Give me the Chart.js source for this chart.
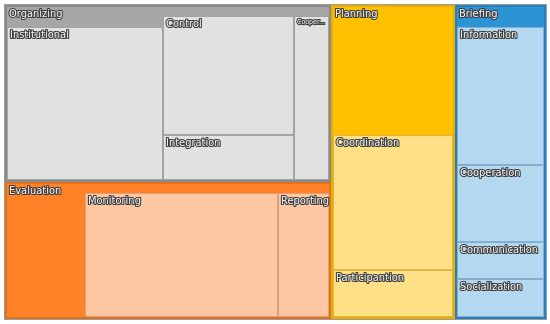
<!DOCTYPE html>
<html>
<head>
<meta charset="utf-8">
<script src="https://cdn.jsdelivr.net/npm/chart.js@4/dist/chart.umd.min.js"></script>
<style>
  html, body { margin: 0; padding: 0; background: #fff; }
  canvas { display: block; }
</style>
</head>
<body>
<canvas id="chart" width="550" height="324"></canvas>
<script>
// data
var groups = ['Organizing', 'Evaluation', 'Planning', 'Briefing'];
var groupOwnValues = [0, 6.4, 9.1, 0];
var organizingItems = ['Institutional', 'Control', 'Integration', 'Cooperation'];
var organizingValues = [16.5, 10.0, 3.8, 3.7];
var evaluationItems = ['Monitoring', 'Reporting'];
var evaluationValues = [15.7, 4.2];
var planningItems = ['Coordination', 'Participantion'];
var planningValues = [10.4, 3.6];
var briefingItems = ['Information', 'Cooperation', 'Communication', 'Socialization'];
var briefingValues = [8.3, 4.3, 2.1, 2.1];

var groupItems = [organizingItems, evaluationItems, planningItems, briefingItems];
var groupValues = [organizingValues, evaluationValues, planningValues, briefingValues];

// how the cells are arranged (index 0 = the group's own value)
var topArrangement = { horizontal: true, cols: [[0, 1], [2], [3]] };
var groupArrangement = [
  { horizontal: true, cols: [[0], [1], [2, 3], [4]] },
  { horizontal: true, cols: [[0], [1], [2]] },
  { horizontal: false, cols: [[0], [1], [2]] },
  { horizontal: false, cols: [[0], [1], [2], [3], [4]] }
];

var groupFill = ['#a6a6a6', '#ff8227', '#ffc000', '#2c93d5'];
var groupBorder = ['#8a8a8a', '#e0721e', '#e8ad00', '#2580c0'];
var cellFill = ['#e1e1e1', '#ffc6a2', '#ffe087', '#b5d8f1'];
var cellBorder = ['#a3a3a3', '#d9a27f', '#e0b640', '#86aed0'];

var FONT = '"DejaVu Sans Condensed", "DejaVu Sans", sans-serif';

function sum(a) { return a.reduce(function (s, v) { return s + v; }, 0); }

function slice(r, vals, cols, horizontal) {
  var total = 0;
  cols.forEach(function (c) { c.forEach(function (i) { total += vals[i]; }); });
  var out = [];
  var pos = horizontal ? r.x : r.y;
  cols.forEach(function (c) {
    var cs = 0;
    c.forEach(function (i) { cs += vals[i]; });
    var len = (horizontal ? r.w : r.h) * cs / total;
    var p2 = horizontal ? r.y : r.x;
    c.forEach(function (i) {
      var l2 = cs ? (horizontal ? r.h : r.w) * vals[i] / cs : 0;
      out[i] = horizontal ? { x: pos, y: p2, w: len, h: l2 } : { x: p2, y: pos, w: l2, h: len };
      p2 += l2;
    });
    pos += len;
  });
  return out;
}

function fitText(ctx, text, maxW) {
  ctx.font = '11px ' + FONT;
  // only really narrow cells get the small, cut label
  if (ctx.measureText(text).width <= maxW * 1.5) return text;
  ctx.font = '7px ' + FONT;
  var t = text;
  while (t.length > 1 && ctx.measureText(t + '...').width > maxW) t = t.slice(0, -1);
  return t + '...';
}

function drawLabel(ctx, text, x, y, maxW) {
  var t = fitText(ctx, text, maxW);
  ctx.textBaseline = 'top';
  ctx.textAlign = 'left';
  ctx.lineJoin = 'round';
  ctx.lineWidth = 2.2;
  ctx.strokeStyle = '#3c3c3c';
  ctx.strokeText(t, x, y);
  ctx.fillStyle = '#f4f4f4';
  ctx.fillText(t, x, y);
}

var treemapPlugin = {
  id: 'treemap',
  beforeDatasetsDraw: function (chart) {
    var ctx = chart.ctx;
    var xs = chart.scales.x, ys = chart.scales.y;
    var totals = groups.map(function (g, i) { return groupOwnValues[i] + sum(groupValues[i]); });
    var rects = slice({ x: 0, y: 0, w: 1, h: 1 }, totals, topArrangement.cols, topArrangement.horizontal);
    var headerPad = 11, sidePad = 2, labelRoom = 11;
    var labels = [];

    ctx.save();
    rects.forEach(function (r, gi) {
      var x0 = Math.round(xs.getPixelForValue(r.x)), x1 = Math.round(xs.getPixelForValue(r.x + r.w));
      var y0 = Math.round(ys.getPixelForValue(r.y)), y1 = Math.round(ys.getPixelForValue(r.y + r.h));
      ctx.fillStyle = groupFill[gi];
      ctx.fillRect(x0, y0, x1 - x0, y1 - y0);

      var content = { x: x0 + sidePad, y: y0 + headerPad, w: x1 - x0 - 2 * sidePad, h: y1 - y0 - headerPad - sidePad };
      var vals = [groupOwnValues[gi]].concat(groupValues[gi]);
      var arr = groupArrangement[gi];
      var cells = slice(content, vals, arr.cols, arr.horizontal);
      var first = true;
      for (var k = 1; k < cells.length; k++) {
        var c = cells[k];
        var cx0 = Math.round(c.x), cx1 = Math.round(c.x + c.w);
        var cy0 = Math.round(c.y), cy1 = Math.round(c.y + c.h);
        if (first && groupOwnValues[gi] === 0) cy0 += labelRoom;
        first = false;
        ctx.fillStyle = cellFill[gi];
        ctx.fillRect(cx0, cy0, cx1 - cx0, cy1 - cy0);
        ctx.strokeStyle = cellBorder[gi];
        ctx.lineWidth = 1;
        ctx.strokeRect(cx0 + 0.5, cy0 + 0.5, cx1 - cx0 - 1, cy1 - cy0 - 1);
        labels.push([groupItems[gi][k - 1], cx0 + 3, cy0 + 3, cx1 - cx0 - 5]);
      }

      ctx.strokeStyle = groupBorder[gi];
      ctx.lineWidth = 2;
      ctx.strokeRect(x0 + 1, y0 + 1, x1 - x0 - 2, y1 - y0 - 2);
      labels.push([groups[gi], x0 + 4, y0 + 4, x1 - x0 - 8]);
    });
    var a = chart.chartArea;
    ctx.strokeStyle = '#9c9c9c';
    ctx.lineWidth = 1;
    ctx.strokeRect(a.left - 0.5, a.top - 0.5, a.right - a.left + 1, a.bottom - a.top + 1);

    labels.forEach(function (l) { drawLabel(ctx, l[0], l[1], l[2], l[3]); });
    ctx.restore();
  }
};

new Chart(document.getElementById('chart'), {
  type: 'scatter',
  data: { datasets: [{ data: [] }] },
  options: {
    responsive: false,
    animation: false,
    devicePixelRatio: 1,
    layout: { padding: { left: 5, top: 5, right: 4, bottom: 5 } },
    plugins: { legend: { display: false }, tooltip: { enabled: false } },
    scales: {
      x: { display: false, min: 0, max: 1 },
      y: { display: false, min: 0, max: 1, reverse: true }
    }
  },
  plugins: [treemapPlugin]
});
</script>
</body>
</html>
